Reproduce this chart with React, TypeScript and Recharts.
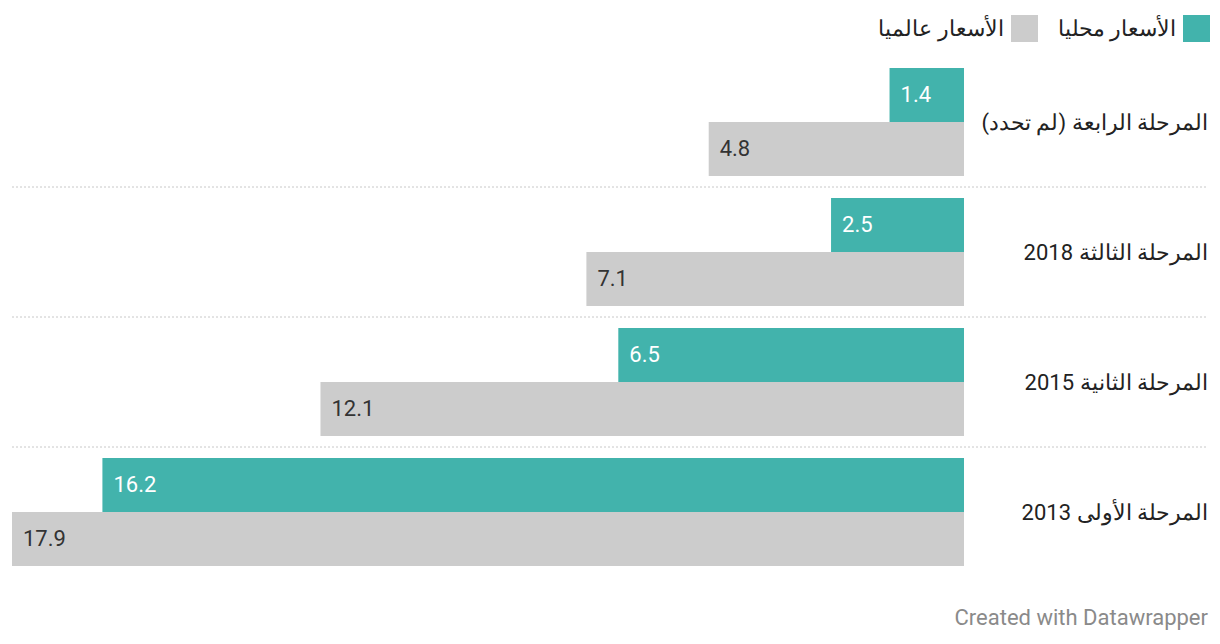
import { BarChart, Bar, XAxis, YAxis, LabelList } from "recharts";

const stages = [
  "المرحلة الرابعة (لم تحدد)",
  "المرحلة الثالثة 2018",
  "المرحلة الثانية 2015",
  "المرحلة الأولى 2013",
];
const localPrices = [1.4, 2.5, 6.5, 16.2];
const globalPrices = [4.8, 7.1, 12.1, 17.9];

const seriesNames = { local: "الأسعار محليا", global: "الأسعار عالميا" };

const TEAL = "#42b3ac";
const GRAY = "#cccccc";
const FONT = "Roboto, 'Noto Sans', sans-serif";

const data = stages.map((stage, i) => ({
  stage,
  local: localPrices[i],
  global: globalPrices[i],
}));

// value label sits at the far (left) end of the bar, inside it
const makeLabel = (color: string) => (props: any) => {
  const { x, y, width, height, value } = props;
  const left = Math.min(x, x + width);
  return (
    <text
      x={left + 11}
      y={y + height / 2}
      dy="0.33em"
      fill={color}
      fontSize={22}
      fontFamily={FONT}
    >
      {value}
    </text>
  );
};

// category label on the right + dotted separator under each group
const StageTick = (props: any) => {
  const { y, payload, index } = props;
  const half = 65;
  return (
    <g>
      <text
        x={1208}
        y={y}
        dy="0.38em"
        textAnchor="start"
        direction="rtl"
        fill="#222"
        fontSize={22}
        fontFamily={FONT}
      >
        {payload.value}
      </text>
      {index < stages.length - 1 && (
        <line
          x1={12}
          x2={1208}
          y1={y + half}
          y2={y + half}
          stroke="#c8c8c8"
          strokeDasharray="2 2"
        />
      )}
    </g>
  );
};

function LegendItem({ color, label }: { color: string; label: string }) {
  return (
    <div style={{ display: "flex", alignItems: "center", gap: 7 }}>
      <div style={{ width: 27, height: 27, background: color }} />
      <span style={{ fontSize: 22, color: "#222" }}>{label}</span>
    </div>
  );
}

export default function App() {
  return (
    <div
      style={{
        position: "absolute",
        left: 0,
        top: 0,
        width: 1220,
        height: 644,
        background: "#fff",
        fontFamily: FONT,
      }}
    >
      <div
        style={{
          position: "absolute",
          top: 14,
          right: 10,
          display: "flex",
          direction: "rtl",
          gap: 20,
          height: 28,
          alignItems: "center",
        }}
      >
        <LegendItem color={TEAL} label={seriesNames.local} />
        <LegendItem color={GRAY} label={seriesNames.global} />
      </div>
      <BarChart
        width={1220}
        height={644}
        data={data}
        layout="vertical"
        margin={{ top: 57, right: 0, left: 12, bottom: 67 }}
        barGap={0}
        barSize={54}
      >
        <XAxis type="number" domain={[0, 17.9]} reversed hide />
        <YAxis
          type="category"
          dataKey="stage"
          orientation="right"
          width={256}
          axisLine={false}
          tickLine={false}
          tick={<StageTick />}
          interval={0}
        />
        <Bar dataKey="local" fill={TEAL} isAnimationActive={false}>
          <LabelList dataKey="local" content={makeLabel("#fff")} />
        </Bar>
        <Bar dataKey="global" fill={GRAY} isAnimationActive={false}>
          <LabelList dataKey="global" content={makeLabel("#333")} />
        </Bar>
      </BarChart>
      <div
        style={{
          position: "absolute",
          right: 12,
          top: 605,
          fontSize: 22,
          color: "#8a8a8a",
        }}
      >
        Created with Datawrapper
      </div>
    </div>
  );
}
